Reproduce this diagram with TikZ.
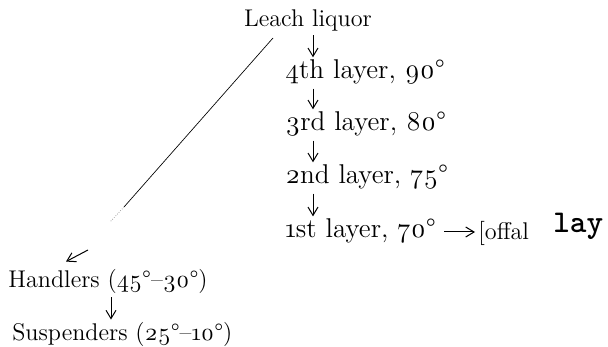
\documentclass[tikz,border=0pt]{standalone}
\usepackage{fontspec}
\setmainfont{lmroman12}[Extension=.otf, UprightFont=*-regular, Numbers=OldStyle]
\usepackage{tikz}
\usetikzlibrary{arrows.meta, positioning, calc}

\begin{document}
\begin{tikzpicture}[x=0.6pt, y=-0.6pt,
    stage/.style={inner sep=0pt, anchor=west, font=\fontsize{14.5}{16}\selectfont},
    layer/.style={stage, font=\fontsize{16.3}{18}\selectfont},
    arrow/.style={semithick,-{Straight Barb[length=5pt,width=6pt]}},
    wire/.style={thin}]
\useasboundingbox (0,0) rectangle (608,347);

% Main column -- layers stacked under the liquor, 52 px apart
\node (liquor) [stage, anchor=center] at (308, 20)  {Leach liquor};
\node (l4)     [layer]                at (285, 72)  {4th layer, 90°};
\node (l3)     [layer]                at (285, 124) {3rd layer, 80°};
\node (l2)     [layer]                at (285, 177) {2nd layer, 75°};
\node (l1)     [layer]                at (285, 231) {1st layer, 70°};
\node (offal)  [stage]                at (478, 233) {[offal};
\node (lay)    [stage, font=\fontsize{19}{21}\selectfont\ttfamily\bfseries] at (553, 226) {lay};

% Left branch
\node (handlers)   [stage] at (8, 281)  {Handlers (45°--30°)};
\node (suspenders) [stage] at (12, 334) {Suspenders (25°--10°)};

\coordinate (ax)    at (313, 0);
\coordinate (hx)    at (111, 0);
\coordinate (split) at (273, 38);
\coordinate (fade)  at (124, 207);
\coordinate (bend)  at (110, 222);
\coordinate (tip)   at (88, 250);

% Vertical connections
\draw [arrow] ($(liquor.south -| ax)+(0,4)$) -- ($(l4.north -| ax)+(0,-2)$);
\draw [arrow] ($(l4.south -| ax)+(0,4)$) -- ($(l3.north -| ax)+(0,-2)$);
\draw [arrow] ($(l3.south -| ax)+(0,4)$) -- ($(l2.north -| ax)+(0,-2)$);
\draw [arrow] ($(l2.south -| ax)+(0,4)$) -- ($(l1.north -| ax)+(0,-2)$);
\draw [arrow] ($(handlers.south -| hx)+(0,4)$) -- ($(suspenders.north -| hx)+(0,-2)$);

% Side connections
\draw [arrow] ($(l1.east)+(8,1)$) -- ($(offal.west)+(-3,-1)$);
\draw [wire]  (split) -- (fade);
\draw [wire, densely dotted, gray] (fade) -- (bend);
\draw [arrow] (tip) -- ($(handlers.north west)+(58,-7)$);

\end{tikzpicture}
\end{document}
